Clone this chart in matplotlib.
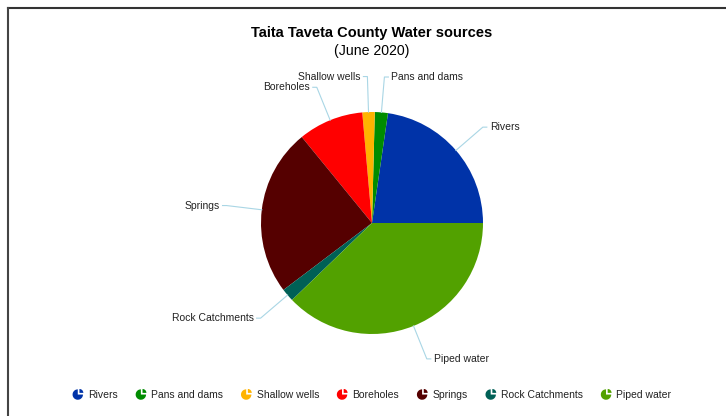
import numpy as np
import matplotlib
matplotlib.use("Agg")
import matplotlib.pyplot as plt
from matplotlib.patches import Wedge
from matplotlib.legend_handler import HandlerBase

plt.rcParams['font.family'] = ['Liberation Sans', 'DejaVu Sans']

# data (percent)
sources = ['Rivers', 'Pans and dams', 'Shallow wells', 'Boreholes',
           'Springs', 'Rock Catchments', 'Piped water']
shares = [22.7, 1.9, 1.8, 9.5, 24.4, 1.9, 37.8]
colors = ['#0033a8', '#008c00', '#ffb300', '#ff0000',
          '#550000', '#006056', '#52a100']

W, H = 726, 416
fig = plt.figure(figsize=(W / 100, H / 100), dpi=100)
ax = fig.add_axes([0, 0, 1, 1])

cx, cy, r = 372, H - 223, 111
wedges, _ = ax.pie(shares, colors=colors, center=(cx, cy), radius=r,
                   startangle=0, counterclock=True,
                   wedgeprops=dict(linewidth=0))
ax.set_xlim(0, W)
ax.set_ylim(0, H)
ax.axis('off')

# leader lines + labels
line_col = '#a9d6e5'
for w, name in zip(wedges, sources):
    mid = np.deg2rad((w.theta1 + w.theta2) / 2)
    x0, y0 = cx + r * np.cos(mid), cy + r * np.sin(mid)
    x1, y1 = cx + 1.32 * r * np.cos(mid), cy + 1.32 * r * np.sin(mid)
    side = 1 if np.cos(mid) >= 0 else -1
    x2 = x1 + side * 4
    ax.plot([x0, x1, x2], [y0, y1, y1], color=line_col, lw=0.8)
    ax.text(x2 + side * 3, y1, name, ha='left' if side > 0 else 'right',
            va='center', fontsize=7.5, color='#222222')

# title
fig.text(372 / W, 1 - 33 / H, 'Taita Taveta County Water sources',
         ha='center', va='center', fontsize=10.5, fontweight='bold', color='#000000')
fig.text(372 / W, 1 - 51 / H, '(June 2020)',
         ha='center', va='center', fontsize=10.2, color='#000000')


# legend with little pie icons
class PieIcon(HandlerBase):
    def create_artists(self, legend, orig_handle, xdescent, ydescent,
                       width, height, fontsize, trans):
        c = orig_handle.get_facecolor()
        rr = width / 2
        x = width / 2 - xdescent
        y = height / 2 - ydescent
        big = Wedge((x, y), rr, 90, 360, facecolor=c, edgecolor='none', transform=trans)
        small = Wedge((x + 1.2, y + 1.2), rr * 0.75, 0, 90, facecolor=c,
                      edgecolor='none', transform=trans)
        return [big, small]


leg = fig.legend(wedges, sources, loc='center', ncol=7,
                 bbox_to_anchor=(372 / W, 1 - 395 / H), frameon=False,
                 fontsize=7.5, handlelength=1.0, handleheight=1.0,
                 handletextpad=0.5, columnspacing=1.7,
                 handler_map={Wedge: PieIcon()})
for t in leg.get_texts():
    t.set_color('#222222')

# frame lines of the screenshot
fig.add_artist(plt.Line2D([8 / W, 1], [1 - 8 / H, 1 - 8 / H], color='#333333', lw=1.5))
fig.add_artist(plt.Line2D([8 / W, 8 / W], [0, 1 - 8 / H], color='#444444', lw=1.5))

fig.savefig('out.png', dpi=100)
